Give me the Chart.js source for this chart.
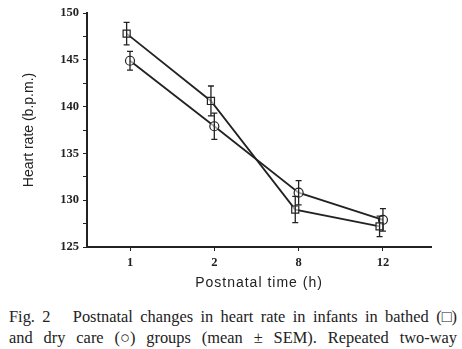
<!DOCTYPE html>
<html>
<head>
<meta charset="utf-8">
<script src="https://cdn.jsdelivr.net/npm/chart.js@4.4.1/dist/chart.umd.min.js"></script>
<style>
  html, body { margin: 0; padding: 0; background: #fff; }
  #wrap { position: relative; width: 462px; height: 295px; }
  .cap { font-family: "Liberation Serif", "Times New Roman", serif; font-size: 16.4px; color: #222;
         text-align: justify; text-align-last: justify; text-justify: inter-word;
         margin: 0 5px 0 9px; line-height: 21px; white-space: nowrap; }
  .cap span { display: inline-block; }
</style>
</head>
<body>
<div id="wrap"><canvas id="hr" width="462" height="295"></canvas></div>
<div style="margin-top: 11px;">
  <div class="cap">Fig. 2&nbsp;&nbsp; Postnatal changes in heart rate in infants in bathed <span>(□)</span></div>
  <div class="cap">and dry care <span>(○)</span> groups (mean <span>±</span> SEM). Repeated two-way</div>
</div>
<script>
const times = ['1', '2', '8', '12'];
const bathedMean = [147.8, 140.6, 129.0, 127.2];
const bathedSem = [1.2, 1.6, 1.4, 1.1];
const dryMean = [144.9, 137.9, 130.8, 127.9];
const drySem = [1.0, 1.4, 1.3, 1.2];
const dodge = 0.04;

const ink = '#222';

function points(means, shift) {
  return means.map((v, i) => ({ x: i + shift, y: v }));
}

const errorBars = {
  id: 'errorBars',
  afterDatasetsDraw(chart) {
    const ctx = chart.ctx;
    const xs = chart.scales.x, ys = chart.scales.y;
    const sets = [[bathedMean, bathedSem, -dodge], [dryMean, drySem, 0]];
    ctx.save();
    ctx.strokeStyle = ink;
    ctx.lineWidth = 1.3;
    sets.forEach(([m, s, shift]) => {
      m.forEach((v, i) => {
        const x = xs.getPixelForValue(i + shift);
        const top = ys.getPixelForValue(v + s[i]);
        const bot = ys.getPixelForValue(v - s[i]);
        ctx.beginPath();
        ctx.moveTo(x, top); ctx.lineTo(x, bot);
        ctx.moveTo(x - 3, top); ctx.lineTo(x + 3, top);
        ctx.moveTo(x - 3, bot); ctx.lineTo(x + 3, bot);
        ctx.stroke();
      });
    });
    ctx.restore();
  }
};

// x title drawn by hand so it can be letter-spaced like the original
const xTitle = {
  id: 'xTitle',
  afterDraw(chart) {
    const ctx = chart.ctx;
    const a = chart.chartArea;
    ctx.save();
    ctx.font = '14px "Liberation Sans"';
    ctx.letterSpacing = '1px';
    ctx.fillStyle = ink;
    ctx.textAlign = 'center';
    ctx.textBaseline = 'middle';
    ctx.fillText('Postnatal time (h)', (a.left + a.right) / 2, 283);
    ctx.restore();
  }
};

new Chart(document.getElementById('hr'), {
  type: 'line',
  data: {
    datasets: [
      {
        label: 'Bathed',
        data: points(bathedMean, -dodge),
        borderColor: ink, borderWidth: 1.8,
        pointStyle: 'rect', pointRadius: 5, pointBorderWidth: 1.2,
        pointBackgroundColor: 'rgba(255,255,255,0.6)', pointBorderColor: ink
      },
      {
        label: 'Dry care',
        data: points(dryMean, 0),
        borderColor: ink, borderWidth: 1.8,
        pointStyle: 'circle', pointRadius: 4.5, pointBorderWidth: 1.2,
        pointBackgroundColor: 'rgba(255,255,255,0.6)', pointBorderColor: ink
      }
    ]
  },
  options: {
    responsive: false,
    animation: false,
    layout: { padding: { top: 13, right: 31, left: 0, bottom: 0 } },
    plugins: { legend: { display: false }, tooltip: { enabled: false } },
    scales: {
      x: {
        type: 'linear',
        min: -0.51, max: 3.57,
        afterBuildTicks(scale) { scale.ticks = times.map((t, i) => ({ value: i })); },
        afterFit(scale) { scale.height = 48; },
        border: { display: true, color: ink, width: 2 },
        grid: { drawOnChartArea: false, drawTicks: true, tickLength: 4, color: ink },
        ticks: {
          color: ink, padding: 4,
          font: { family: 'Liberation Serif', size: 12.5, weight: 'bold' },
          callback: (v) => times[v]
        }
      },
      y: {
        min: 125, max: 150,
        afterBuildTicks(scale) {
          const t = [];
          for (let v = 125; v <= 150; v += 2.5) t.push({ value: v });
          scale.ticks = t;
        },
        afterFit(scale) { scale.width = 87; },
        border: { display: true, color: ink, width: 2 },
        grid: { drawOnChartArea: false, drawTicks: true, tickLength: 4, color: ink },
        ticks: {
          color: ink, padding: 4,
          font: { family: 'Liberation Serif', size: 12.5, weight: 'bold' },
          callback: (v) => (v % 5 === 0 ? String(v) : '')
        },
        title: {
          display: true, text: 'Heart rate (b.p.m.)', color: ink,
          font: { family: 'Liberation Sans', size: 14 }, padding: { top: 21, bottom: 0 }
        }
      }
    }
  },
  plugins: [errorBars, xTitle]
});
</script>
</body>
</html>
